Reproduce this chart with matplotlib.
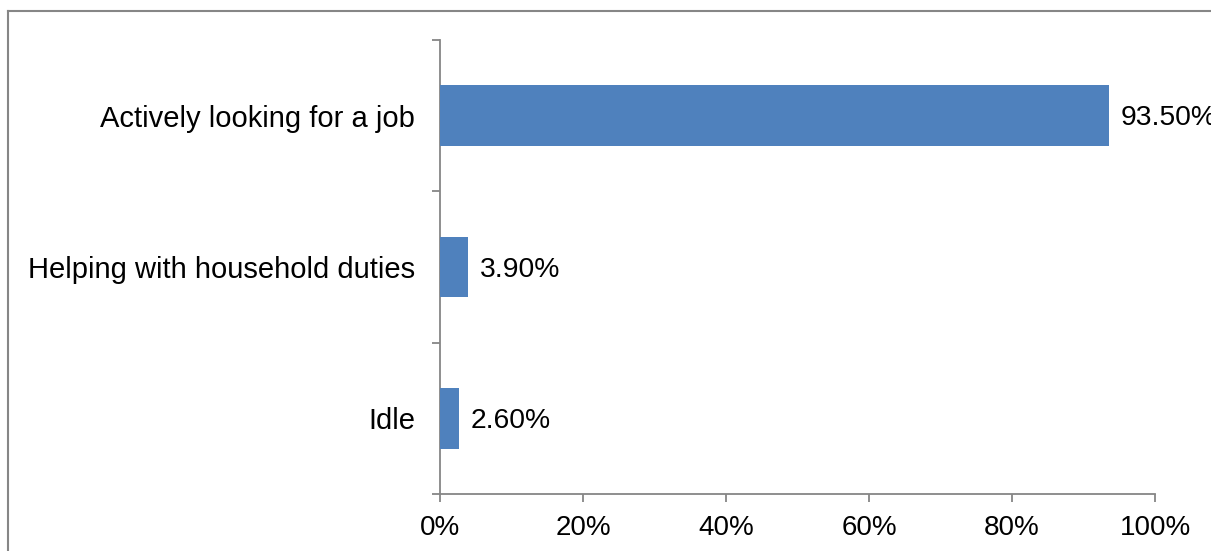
import matplotlib.pyplot as plt
from matplotlib.lines import Line2D
from matplotlib.ticker import FuncFormatter

plt.rcParams['font.family'] = ['Liberation Sans', 'DejaVu Sans']

# Данные
categories = ['Actively looking for a job', 'Helping with household duties', 'Idle']
values = [93.5, 3.9, 2.6]
x_ticks = [0, 20, 40, 60, 80, 100]

W, H = 1211, 551
fig = plt.figure(figsize=(W / 100, H / 100), dpi=100)
ax = fig.add_axes([440 / W, 57 / H, 715 / W, 454 / H])

pos = list(range(len(categories)))
ax.barh(pos, values, height=0.4, color='#4F81BD', zorder=3)

# Подписи значений справа от столбцов
for p, v in zip(pos, values):
    ax.annotate(f'{v:.2f}%', (v, p), xytext=(9, -2), textcoords='offset points',
                va='center', ha='left', fontsize=20.3, color='black')

ax.set_xlim(0, 100)
ax.set_ylim(len(categories) - 0.5, -0.5)
ax.set_xticks(x_ticks)
ax.xaxis.set_major_formatter(FuncFormatter(lambda x, _: f'{x:.0f}%'))

# Деления на границах категорий, подписи по центру
ax.set_yticks([-0.5, 0.5, 1.5, 2.5])
ax.set_yticklabels([])
ax.set_yticks(pos, minor=True)
ax.set_yticklabels(categories, minor=True)

grey = '#868686'
for s in ['top', 'right']:
    ax.spines[s].set_visible(False)
for s in ['left', 'bottom']:
    ax.spines[s].set_color(grey)
    ax.spines[s].set_linewidth(1.3)

ax.tick_params(axis='both', which='major', direction='out', length=6,
               width=1.3, color=grey, labelsize=20, labelcolor='black')
ax.tick_params(axis='x', pad=9)
ax.tick_params(axis='y', which='minor', length=0, pad=18, labelsize=21)

# Рамка вокруг диаграммы
fig.add_artist(Line2D([8 / W, 8 / W], [0, 1 - 11 / H], color=grey, lw=1.5,
                      transform=fig.transFigure))
fig.add_artist(Line2D([8 / W, 1], [1 - 11 / H, 1 - 11 / H], color=grey, lw=1.5,
                      transform=fig.transFigure))

fig.savefig('out.png', dpi=100)
